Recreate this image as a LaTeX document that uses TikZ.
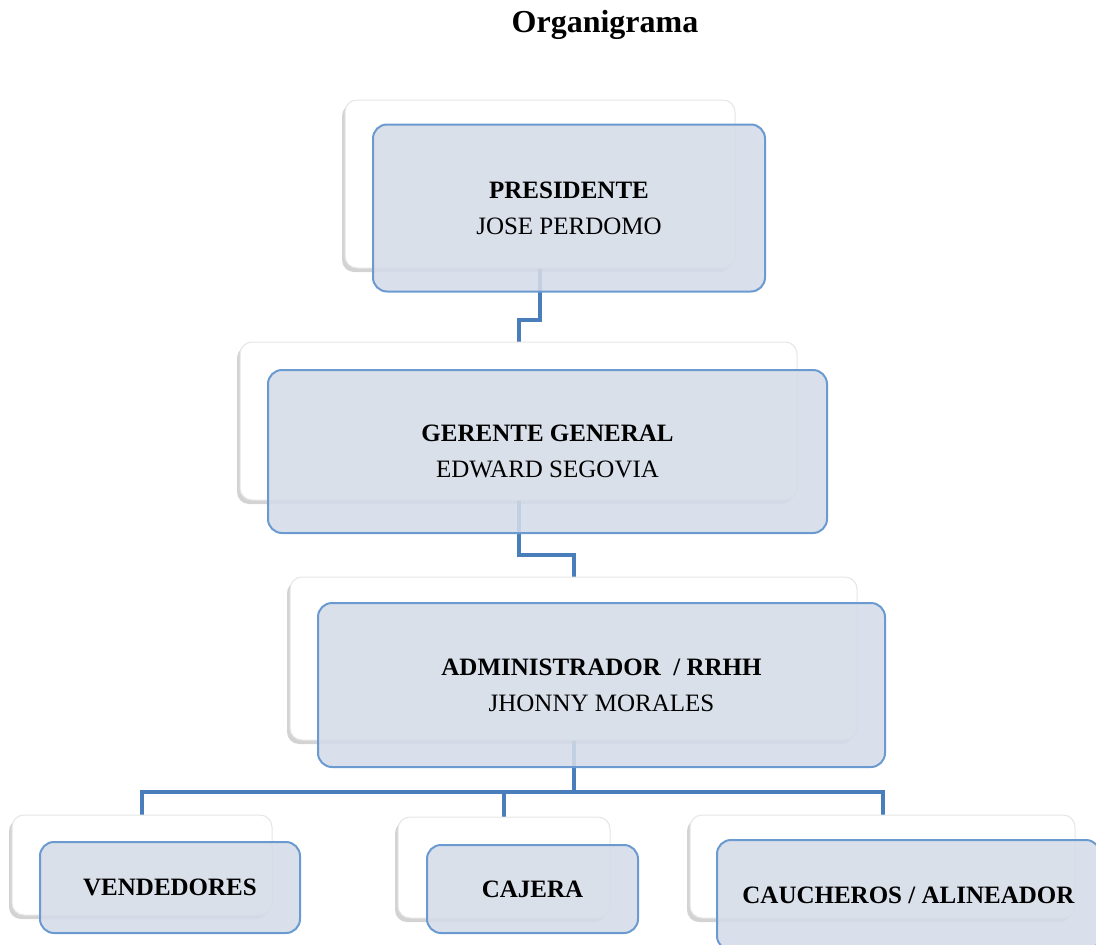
\documentclass[tikz,border=0pt]{standalone}
\usepackage{fontspec}
\setmainfont{Liberation Serif}
\usetikzlibrary{shadows,backgrounds}
\definecolor{conn}{HTML}{4A7EBB}
\definecolor{frontfill}{HTML}{D4DCE8}
\definecolor{frontline}{HTML}{6A9AD0}
\tikzset{
 backbox/.style={draw=gray!20, line width=1pt, fill=white, rounded corners=12pt, inner sep=0pt, outer sep=0pt, anchor=north west,
   drop shadow={shadow xshift=-3pt, shadow yshift=-4pt, opacity=0.35, fill=gray}},
 frontbox/.style={draw=frontline, line width=2pt, fill=frontfill, fill opacity=0.88, text opacity=1, rounded corners=14pt,
   inner sep=0pt, outer sep=0pt, align=center, font=\fontsize{25}{36}\selectfont},
 link/.style={draw=conn, line width=4pt},
}
\begin{document}
\begin{tikzpicture}[x=1pt,y=-1pt]
\useasboundingbox (0,0) rectangle (1096,945);
\clip (0,0) rectangle (1096,945);
\node[font=\fontsize{32}{38}\selectfont\bfseries] (title) at (605,25) {Organigrama};

% back boxes
\node[backbox, minimum width=390pt, minimum height=168pt] (presB) at (345,100) {};
\node[backbox, minimum width=557pt, minimum height=158pt] (gerB) at (240,342) {};
\node[backbox, minimum width=567pt, minimum height=163pt] (admB) at (290,577) {};
\node[backbox, minimum width=260pt, minimum height=100pt] (vendB) at (12,815) {};
\node[backbox, minimum width=212pt, minimum height=101pt] (cajB) at (398,817) {};
\node[backbox, minimum width=385pt, minimum height=103pt] (cauchB) at (690,815) {};

% front boxes
\node[frontbox, minimum width=392pt, minimum height=167pt] (presF) at (569,208) {\textbf{PRESIDENTE}\\JOSE PERDOMO};
\node[frontbox, minimum width=559pt, minimum height=163pt] (gerF) at (547.5,451.5) {\textbf{GERENTE GENERAL}\\EDWARD SEGOVIA};
\node[frontbox, minimum width=567pt, minimum height=164pt] (admF) at (601.5,685) {\textbf{ADMINISTRADOR\ \ / RRHH}\\JHONNY MORALES};
\node[frontbox, minimum width=260pt, minimum height=91pt] (vendF) at (170,887.5) {\textbf{VENDEDORES}};
\node[frontbox, minimum width=211pt, minimum height=88pt] (cajF) at (532.5,889) {\textbf{CAJERA}};
\node[frontbox, minimum width=383pt, minimum height=110pt] (cauchF) at (908.5,895) {\textbf{CAUCHEROS / ALINEADOR}};

% connectors
\begin{scope}[on background layer]
\draw[link] (presB.south) -- ++(0,52) -| (gerB.north);
\draw[link] (gerB.south) -- ++(0,55) -| (admB.north);
\draw[link] (admB.south) -- ++(0,52) coordinate (hub);
\draw[link] (vendB.north) |- (hub) -| (cauchB.north);
\draw[link] (cajB.north) -- (cajB.north |- hub);
\end{scope}
\end{tikzpicture}
\end{document}
